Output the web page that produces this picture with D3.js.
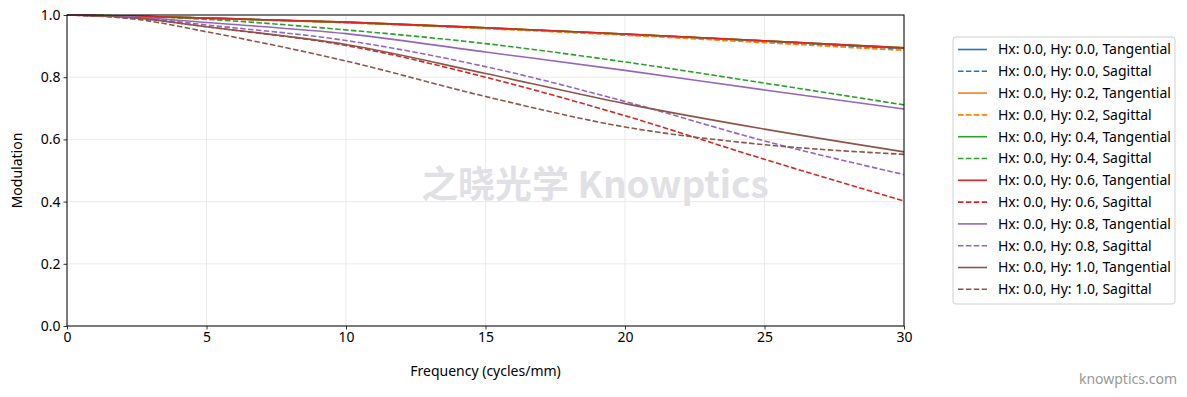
<!DOCTYPE html>
<html>
<head>
<meta charset="utf-8">
<title>MTF</title>
<script src="https://d3js.org/d3.v7.min.js"></script>
<style>
  body { margin: 0; background: #fff; }
  text { font-family: "Noto Sans", "Open Sans", sans-serif; }
</style>
</head>
<body>
<svg width="1187" height="397"></svg>
<script>
// frequencies (cycles/mm) where the curves were read
var freqs = [0, 2.5, 5, 10, 15, 20, 25, 30];

var fields = ["0.0", "0.2", "0.4", "0.6", "0.8", "1.0"];
var colors = ["#1f77b4", "#ff7f0e", "#2ca02c", "#d62728", "#9467bd", "#8c564b"];

var tan00 = [1, 0.996, 0.990, 0.976, 0.958, 0.938, 0.916, 0.893];
var sag00 = [1, 0.996, 0.990, 0.976, 0.958, 0.937, 0.914, 0.891];
var tan02 = [1, 0.996, 0.990, 0.977, 0.959, 0.939, 0.917, 0.895];
var sag02 = [1, 0.996, 0.989, 0.975, 0.956, 0.935, 0.911, 0.886];
var tan04 = [1, 0.996, 0.990, 0.977, 0.959, 0.939, 0.917, 0.894];
var sag04 = [1, 0.996, 0.986, 0.952, 0.908, 0.849, 0.781, 0.711];
var tan06 = [1, 0.996, 0.990, 0.977, 0.959, 0.939, 0.917, 0.894];
var sag06 = [1, 0.990, 0.962, 0.902, 0.800, 0.676, 0.536, 0.402];
var tan08 = [1, 0.993, 0.976, 0.940, 0.881, 0.822, 0.759, 0.698];
var sag08 = [1, 0.992, 0.968, 0.918, 0.834, 0.722, 0.595, 0.487];
var tan10 = [1, 0.990, 0.962, 0.905, 0.812, 0.715, 0.633, 0.560];
var sag10 = [1, 0.986, 0.946, 0.852, 0.738, 0.640, 0.583, 0.552];

var xTicks = [0, 5, 10, 15, 20, 25, 30];
var yTicks = [0, 0.2, 0.4, 0.6, 0.8, 1.0];

var series = [
  {field: 0, kind: "Tangential", values: tan00},
  {field: 0, kind: "Sagittal", values: sag00},
  {field: 1, kind: "Tangential", values: tan02},
  {field: 1, kind: "Sagittal", values: sag02},
  {field: 2, kind: "Tangential", values: tan04},
  {field: 2, kind: "Sagittal", values: sag04},
  {field: 3, kind: "Tangential", values: tan06},
  {field: 3, kind: "Sagittal", values: sag06},
  {field: 4, kind: "Tangential", values: tan08},
  {field: 4, kind: "Sagittal", values: sag08},
  {field: 5, kind: "Tangential", values: tan10},
  {field: 5, kind: "Sagittal", values: sag10}
];

var svg = d3.select("svg"),
    margin = {top: 15, right: 283, bottom: 71, left: 67},
    width = +svg.attr("width") - margin.left - margin.right,
    height = +svg.attr("height") - margin.top - margin.bottom,
    g = svg.append("g").attr("transform", "translate(" + margin.left + "," + margin.top + ")");

var x = d3.scaleLinear().domain([0, 30]).range([0, width]);
var y = d3.scaleLinear().domain([0, 1]).range([height, 0]);

// grid
g.append("g").selectAll("line").data(xTicks).enter().append("line")
  .attr("x1", function(d) { return x(d); }).attr("x2", function(d) { return x(d); })
  .attr("y1", 0).attr("y2", height)
  .attr("stroke", "#e6e6e6").attr("stroke-width", 0.8);
g.append("g").selectAll("line").data(yTicks).enter().append("line")
  .attr("y1", function(d) { return y(d); }).attr("y2", function(d) { return y(d); })
  .attr("x1", 0).attr("x2", width)
  .attr("stroke", "#e6e6e6").attr("stroke-width", 0.8);

// watermark
g.append("text")
  .attr("x", 528).attr("y", y(0.41))
  .attr("text-anchor", "middle")
  .attr("font-size", 37).attr("font-weight", "bold")
  .attr("fill", "#e1e1e5")
  .style("font-family", "'Noto Sans CJK SC', 'Noto Sans', sans-serif")
  .text("之晓光学 Knowptics");

var line = d3.line()
  .x(function(d, i) { return x(freqs[i]); })
  .y(function(d) { return y(d); })
  .curve(d3.curveMonotoneX);

g.append("g").selectAll("path").data(series).enter().append("path")
  .attr("d", function(d) { return line(d.values); })
  .attr("fill", "none")
  .attr("stroke", function(d) { return colors[d.field]; })
  .attr("stroke-width", 1.6)
  .attr("stroke-dasharray", function(d) { return d.kind == "Sagittal" ? "5.5,2.4" : null; });

// axes
var xAxis = g.append("g")
  .attr("transform", "translate(0," + height + ")")
  .call(d3.axisBottom(x).tickValues(xTicks).tickFormat(d3.format("d")).tickSize(3.5).tickPadding(3));
var yAxis = g.append("g")
  .call(d3.axisLeft(y).tickValues(yTicks).tickFormat(d3.format(".1f")).tickSize(3.5).tickPadding(3));
[xAxis, yAxis].forEach(function(a) {
  a.select(".domain").remove();
  a.selectAll("text").attr("font-size", 14).attr("fill", "#000")
    .style("font-family", "'Noto Sans', sans-serif");
  a.selectAll("line").attr("stroke", "#000").attr("stroke-width", 0.8);
});

g.append("rect")
  .attr("width", width).attr("height", height)
  .attr("fill", "none").attr("stroke", "#000").attr("stroke-width", 1);

g.append("text")
  .attr("x", width / 2).attr("y", height + 50)
  .attr("text-anchor", "middle").attr("font-size", 14)
  .text("Frequency (cycles/mm)");
g.append("text")
  .attr("transform", "translate(-45," + (height / 2) + ") rotate(-90)")
  .attr("text-anchor", "middle").attr("font-size", 14)
  .text("Modulation");

// legend
var legend = svg.append("g").attr("transform", "translate(953,37)");
legend.append("rect")
  .attr("width", 222).attr("height", 267).attr("rx", 3)
  .attr("fill", "#fff").attr("stroke", "#d0d0d0").attr("stroke-width", 1);
var item = legend.selectAll("g.item").data(series).enter().append("g")
  .attr("class", "item")
  .attr("transform", function(d, i) { return "translate(0," + (12.5 + i * 21.8) + ")"; });
item.append("line")
  .attr("x1", 5).attr("x2", 34)
  .attr("stroke", function(d) { return colors[d.field]; })
  .attr("stroke-width", 1.6)
  .attr("stroke-dasharray", function(d) { return d.kind == "Sagittal" ? "5.5,2.4" : null; });
item.append("text")
  .attr("x", 45).attr("dy", "0.35em").attr("font-size", 14)
  .text(function(d) { return "Hx: 0.0, Hy: " + fields[d.field] + ", " + d.kind; });

svg.append("text")
  .attr("x", 1177).attr("y", 384)
  .attr("text-anchor", "end").attr("font-size", 14).attr("fill", "#999")
  .text("knowptics.com");
</script>
</body>
</html>
